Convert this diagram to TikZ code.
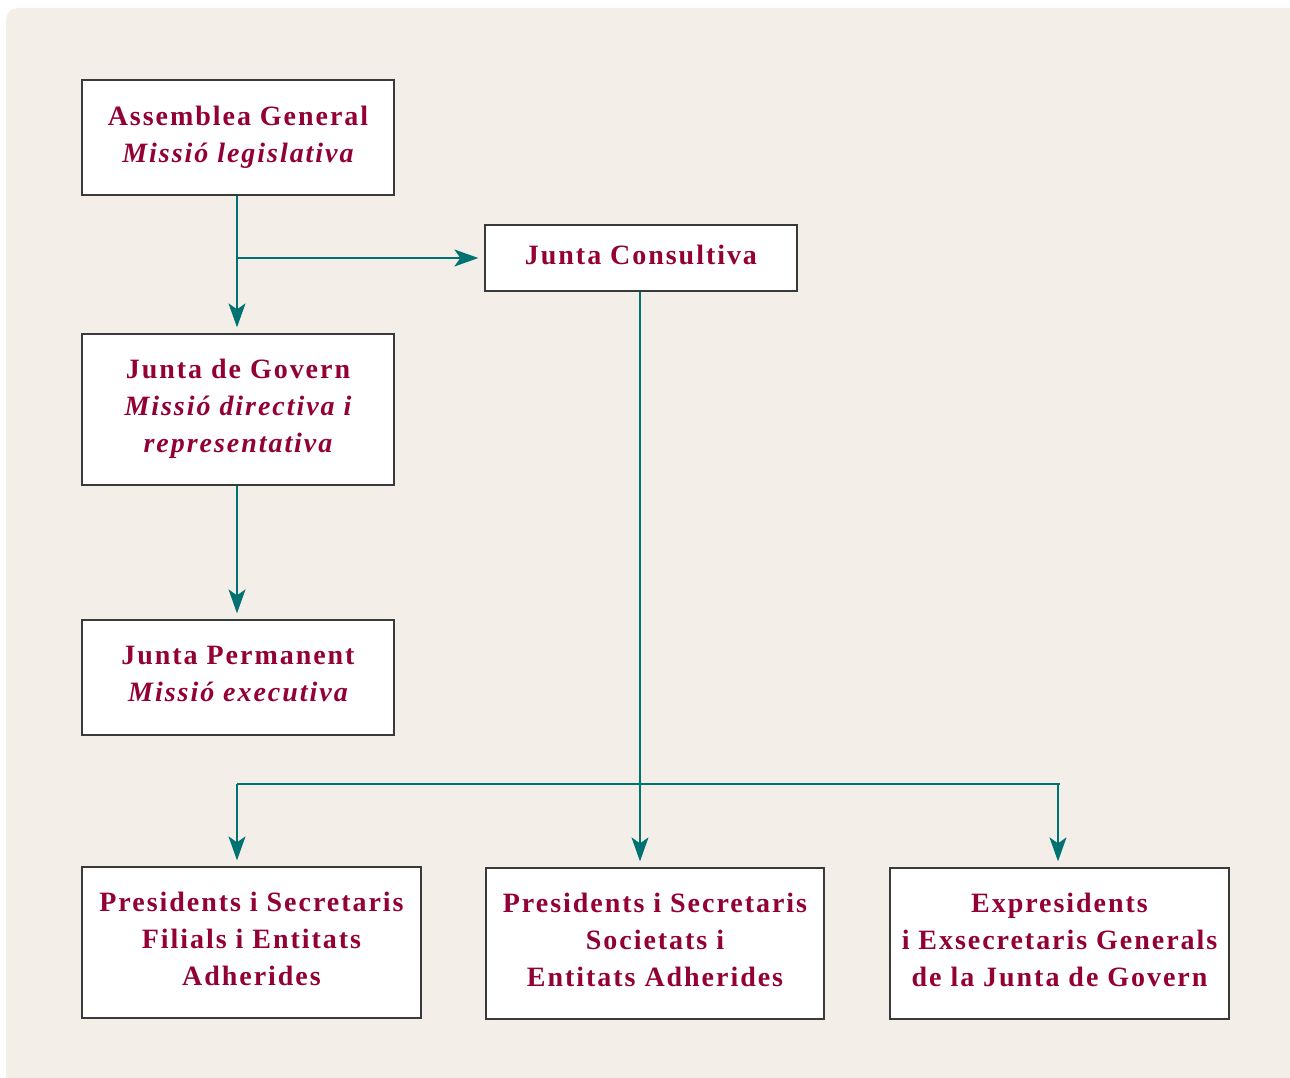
\documentclass[tikz,border=0pt]{standalone}
\usepackage{fontspec}
\usetikzlibrary{arrows.meta}
\newfontfamily\boxfont[LetterSpace=7]{Liberation Serif}
\definecolor{bgbeige}{HTML}{F4EEE9}
\definecolor{txtred}{HTML}{920035}
\definecolor{lineteal}{HTML}{007272}
\definecolor{boxline}{HTML}{3A3A3A}
\tikzset{
  orgbox/.style={draw=boxline, line width=1.3pt, fill=white, rectangle, align=center,
    text=txtred, font=\boxfont\bfseries\fontsize{28}{37}\selectfont, inner sep=0pt,
    text depth=7pt},
  conn/.style={draw=lineteal, line width=1.2pt},
  arr/.style={conn, -{Stealth[length=24pt,width=17pt,inset=6pt]}, shorten >=6pt}
}
\begin{document}
\begin{tikzpicture}[x=1pt,y=-1pt]
\useasboundingbox (0,0) rectangle (1290,1078);
\fill[white] (0,0) rectangle (1290,1078);
\fill[bgbeige] (6,1078) [rounded corners=12pt] -- (6,8) [sharp corners] -- (1290,8) -- (1290,1078) -- cycle;

\node[orgbox, minimum width=312pt, minimum height=115pt] (ag) at (238,137.5)
  {Assemblea General\\ \itshape Missió legislativa};
\node[orgbox, minimum width=312pt, minimum height=66pt] (jc) at (641,258)
  {Junta Consultiva};
\node[orgbox, minimum width=312pt, minimum height=151pt] (jg) at (238,409.5)
  {Junta de Govern\\ \itshape Missió directiva i\\ \itshape representativa};
\node[orgbox, minimum width=312pt, minimum height=115pt] (jp) at (238,677.5)
  {Junta Permanent\\ \itshape Missió executiva};
\node[orgbox, minimum width=339pt, minimum height=151pt] (pf) at (251.5,942.5)
  {Presidents i Secretaris\\ Filials i Entitats\\ Adherides};
\node[orgbox, minimum width=338pt, minimum height=151pt] (ps) at (655,943.5)
  {Presidents i Secretaris\\ Societats i\\ Entitats Adherides};
\node[orgbox, minimum width=339pt, minimum height=151pt] (ex) at (1059.5,943.5)
  {Expresidents\\ i Exsecretaris Generals\\ de la Junta de Govern};

\coordinate (bus) at (0,784);
\coordinate (left) at (237,0);

\draw[arr] (left |- ag.south) -- (left |- jg.north);
\draw[arr] (left |- jc.west) -- (jc.west);
\draw[arr] (left |- jg.south) -- (left |- jp.north);
\draw[arr] ([xshift=-1pt]jc.south) -- ([xshift=-1pt]jc.south |- ps.north);
\draw[conn] (left |- bus) -- (ex.north |- bus);
\draw[arr] (left |- bus) -- (left |- pf.north);
\draw[arr] ([xshift=-1.5pt]ex.north |- bus) -- ([xshift=-1.5pt]ex.north);
\end{tikzpicture}
\end{document}
